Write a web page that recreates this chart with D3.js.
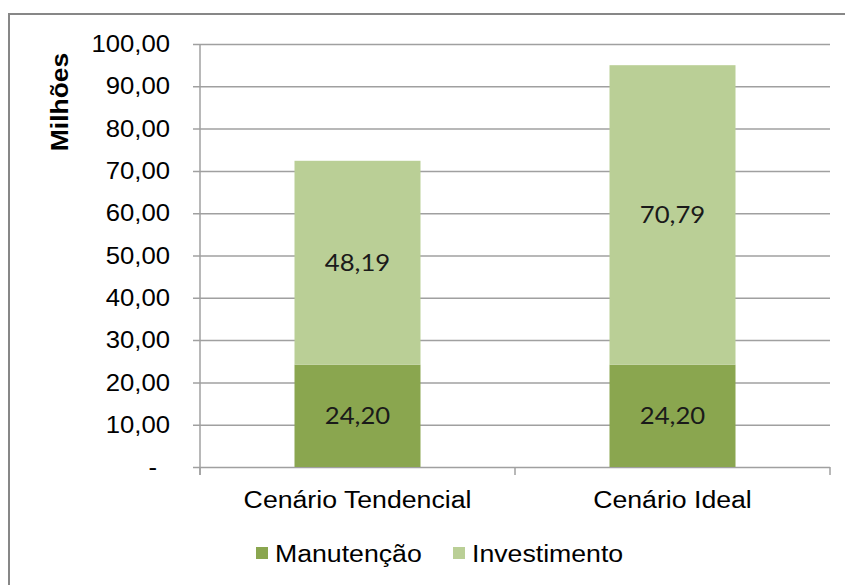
<!DOCTYPE html>
<html>
<head>
<meta charset="utf-8">
<script src="https://cdn.jsdelivr.net/npm/d3@7"></script>
<style>
  body { margin: 0; background: #fff; }
  svg { display: block; }
</style>
</head>
<body>
<div id="chart"></div>
<script>
// data
let categories = ["Cenário Tendencial", "Cenário Ideal"];
let manutencao = [24.20, 24.20];
let investimento = [48.19, 70.79];
let seriesNames = ["Manutenção", "Investimento"];
let seriesColors = ["#8aa64f", "#bacf96"];
let yTicks = [0, 10, 20, 30, 40, 50, 60, 70, 80, 90, 100];

let w = 845;
let h = 585;

let svg = d3.select("#chart")
  .append("svg")
  .attr("width", w)
  .attr("height", h);

// outer chart border (runs off right and bottom)
svg.append("rect")
  .attr("x", 9)
  .attr("y", 14)
  .attr("width", w)
  .attr("height", h)
  .attr("fill", "none")
  .attr("stroke", "#878787")
  .attr("stroke-width", 2);

let plot = { left: 200, right: 830, top: 44, bottom: 467 };

let x = d3.scaleBand()
  .domain(categories)
  .range([plot.left, plot.right])
  .paddingInner(0.6)
  .paddingOuter(0.3);

let y = d3.scaleLinear()
  .domain([0, 100])
  .range([plot.bottom, plot.top]);

let fmt = v => v === 0 ? "-" : d3.format(".2f")(v).replace(".", ",");

// the reference text is a little wider than these fonts, so stretch it
let wide = (tx, ty, sx) => `translate(${tx},${ty}) scale(${sx},1)`;

// y axis with gridlines
let yAxis = svg.append("g")
  .attr("transform", `translate(${plot.left},0)`)
  .call(d3.axisLeft(y)
    .tickValues(yTicks)
    .tickSize(-(plot.right - plot.left))
    .tickFormat(fmt));

yAxis.select(".domain").remove();
yAxis.selectAll(".tick line")
  .attr("x1", -7)
  .attr("stroke", "#a0a0a0")
  .attr("stroke-width", 1.5);
yAxis.selectAll(".tick text")
  .attr("x", 0)
  .attr("transform", d => wide(d === 0 ? -43 : -30, 0, 1.07))
  .attr("fill", "#000")
  .style("font-family", "'Liberation Sans', Arial, sans-serif")
  .style("font-size", "24px");

// vertical axis line
svg.append("line")
  .attr("x1", plot.left).attr("x2", plot.left)
  .attr("y1", plot.top).attr("y2", plot.bottom + 8)
  .attr("stroke", "#a0a0a0")
  .attr("stroke-width", 1.5);

// x axis ticks at band boundaries
let step = (plot.right - plot.left) / categories.length;
let boundaries = d3.range(categories.length + 1).map(i => plot.left + i * step);
svg.selectAll(".xtick")
  .data(boundaries)
  .enter()
  .append("line")
  .attr("class", "xtick")
  .attr("x1", d => d).attr("x2", d => d)
  .attr("y1", plot.bottom).attr("y2", plot.bottom + 8)
  .attr("stroke", "#a0a0a0")
  .attr("stroke-width", 1.5);

// stacked bars
let rows = categories.map((c, i) => ({ cat: c, Manutenção: manutencao[i], Investimento: investimento[i] }));
let stack = d3.stack().keys(seriesNames)(rows);
let color = d3.scaleOrdinal().domain(seriesNames).range(seriesColors);

let layers = svg.selectAll(".layer")
  .data(stack)
  .enter()
  .append("g")
  .attr("class", "layer")
  .attr("fill", d => color(d.key));

layers.selectAll("rect")
  .data(d => d)
  .enter()
  .append("rect")
  .attr("x", d => x(d.data.cat))
  .attr("width", x.bandwidth())
  .attr("y", d => y(d[1]))
  .attr("height", d => y(d[0]) - y(d[1]));

layers.selectAll("text")
  .data(d => d.map(p => ({ p: p, key: d.key })))
  .enter()
  .append("text")
  .attr("transform", d => wide(x(d.p.data.cat) + x.bandwidth() / 2, (y(d.p[0]) + y(d.p[1])) / 2, 1.07))
  .attr("dy", "0.35em")
  .attr("text-anchor", "middle")
  .attr("fill", "#1a1a1a")
  .style("font-family", "Lato, 'Open Sans', sans-serif")
  .style("font-size", "24px")
  .text(d => fmt(d.p.data[d.key]));

// category labels
svg.selectAll(".cat")
  .data(categories)
  .enter()
  .append("text")
  .attr("class", "cat")
  .attr("transform", d => wide(x(d) + x.bandwidth() / 2, 508, 1.16))
  .attr("text-anchor", "middle")
  .style("font-family", "'Liberation Sans', Arial, sans-serif")
  .style("font-size", "23px")
  .text(d => d);

// y axis title
svg.append("text")
  .attr("transform", "translate(68,102) rotate(-90) scale(1.15,1)")
  .attr("text-anchor", "middle")
  .style("font-family", "'Liberation Sans', Arial, sans-serif")
  .style("font-weight", "bold")
  .style("font-size", "23px")
  .text("Milhões");

// legend
let legendX = [256, 453];
let legend = svg.selectAll(".legend")
  .data(seriesNames)
  .enter()
  .append("g")
  .attr("class", "legend")
  .attr("transform", (d, i) => `translate(${legendX[i]},547)`);

legend.append("rect")
  .attr("width", 12)
  .attr("height", 12)
  .attr("fill", d => color(d));

legend.append("text")
  .attr("transform", wide(19, 14.5, 1.16))
  .style("font-family", "'Liberation Sans', Arial, sans-serif")
  .style("font-size", "23px")
  .text(d => d);
</script>
</body>
</html>
